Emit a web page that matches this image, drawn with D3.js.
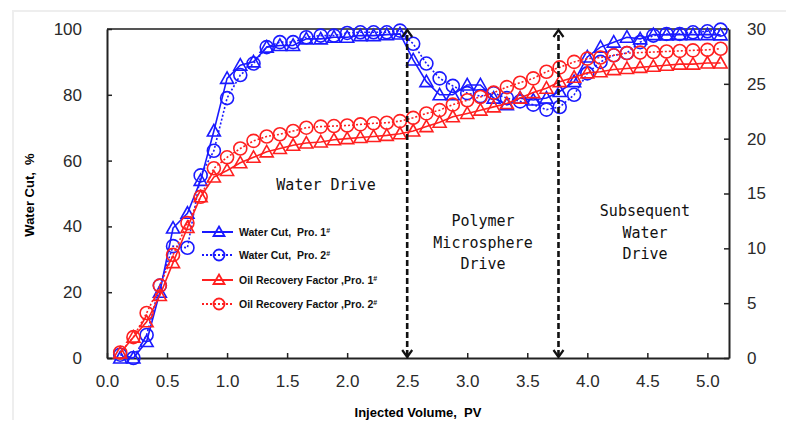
<!DOCTYPE html>
<html>
<head>
<meta charset="utf-8">
<script src="https://cdn.jsdelivr.net/npm/d3@7/dist/d3.min.js"></script>
<style>
  html, body { margin: 0; padding: 0; background: #fff; }
  svg { display: block; }
  text { white-space: pre; }
</style>
</head>
<body>
<svg id="chart" width="795" height="430"></svg>
<script>
// Injected volume (PV) at each sampling point
const injectedPV = [
  0.11, 0.22, 0.33, 0.44, 0.55, 0.67, 0.78, 0.89, 1.00, 1.11,
  1.22, 1.33, 1.44, 1.55, 1.66, 1.78, 1.89, 2.00, 2.11, 2.22,
  2.33, 2.44, 2.55, 2.66, 2.77, 2.88, 3.00, 3.11, 3.22, 3.33,
  3.44, 3.55, 3.66, 3.77, 3.89, 4.00, 4.11, 4.22, 4.33, 4.44,
  4.55, 4.66, 4.77, 4.88, 5.00, 5.11
];

// Water cut, % (left axis)
const waterCutPro1 = [
  0, 0, 5, 20, 39.5, 44, 54, 69, 85, 89,
  90, 94.5, 95, 95, 97, 97, 97.5, 97.5, 98, 98,
  98.3, 98.5, 90.6, 84, 80, 80, 83, 83, 79, 77,
  79, 78.4, 79, 81, 84, 91.5, 94.5, 96, 97.5, 97,
  98.3, 98.2, 98.3, 98.3, 98.3, 98.2
];
const waterCutPro2 = [
  1, 0, 7, 22, 34, 33.5, 55.5, 63, 79, 86,
  89.5, 94.5, 96, 96, 97.5, 98, 98, 98.8, 99, 99,
  99, 99.5, 95.5, 89.5, 85, 82.7, 80.5, 79.6, 80.5, 79,
  78, 77, 75.5, 76.3, 80, 86.5, 90, 92, 92.7, 96,
  98, 98.5, 98.5, 99, 99.3, 99.8
];

// Oil recovery factor, % (right axis)
const recoveryPro1 = [
  0.45, 1.9, 3.3, 5.7, 8.7, 11.9, 14.7, 16.5, 17.1, 17.8,
  18.3, 18.8, 19.1, 19.4, 19.6, 19.7, 19.9, 20.0, 20.1, 20.2,
  20.3, 20.45, 20.7, 21.1, 21.5, 22.0, 22.3, 22.6, 22.9, 23.2,
  23.7, 24.2, 24.6, 25.2, 25.6, 26.0, 26.1, 26.3, 26.4, 26.5,
  26.6, 26.7, 26.8, 26.8, 26.9, 26.9
];
const recoveryPro2 = [
  0.5, 1.9, 4.1, 6.6, 9.4, 12.3, 14.7, 17.3, 18.3, 19.1,
  19.8, 20.2, 20.4, 20.7, 21.0, 21.1, 21.15, 21.2, 21.3, 21.4,
  21.45, 21.6, 21.9, 22.3, 22.6, 23.1, 23.5, 23.8, 24.2, 24.7,
  25.1, 25.5, 26.1, 26.5, 27.0, 27.3, 27.4, 27.6, 27.8, 27.85,
  27.9, 27.95, 28.0, 28.05, 28.1, 28.2
];

// Stage boundaries (PV)
const stageBounds = [2.5, 3.76];

// Tick values
const xTicks = [0, 0.5, 1, 1.5, 2, 2.5, 3, 3.5, 4, 4.5, 5];
const yLeftTicks = [0, 20, 40, 60, 80, 100];
const yRightTicks = [0, 5, 10, 15, 20, 25, 30];

const seriesNames = [
  "Water Cut,  Pro. 1",
  "Water Cut,  Pro. 2",
  "Oil Recovery Factor ,Pro. 1",
  "Oil Recovery Factor ,Pro. 2"
];

const BLUE = "#1a1aff";
const RED = "#ff2020";

const series = [
  { name: seriesNames[0], values: waterCutPro1, axis: "left", color: BLUE, marker: "triangle", dotted: false },
  { name: seriesNames[1], values: waterCutPro2, axis: "left", color: BLUE, marker: "circle", dotted: true },
  { name: seriesNames[2], values: recoveryPro1, axis: "right", color: RED, marker: "triangle", dotted: false },
  { name: seriesNames[3], values: recoveryPro2, axis: "right", color: RED, marker: "circle", dotted: true }
];

const svg = d3.select("#chart");
const plotLeft = 107, plotRight = 729, plotTop = 29, plotBottom = 358;

const x = d3.scaleLinear().domain([0, 5.18]).range([plotLeft, plotRight]);
const yL = d3.scaleLinear().domain([0, 100]).range([plotBottom, plotTop]);
const yR = d3.scaleLinear().domain([0, 30]).range([plotBottom, plotTop]);

const tickFont = "'Liberation Sans', Arial, sans-serif";

// faint frame of the figure
svg.append("path")
  .attr("d", "M13,420 V11 H786")
  .attr("fill", "none").attr("stroke", "#eeeeee").attr("stroke-width", 2);

// top border of the plot box
svg.append("line")
  .attr("x1", plotLeft).attr("x2", plotRight).attr("y1", plotTop).attr("y2", plotTop)
  .attr("stroke", "#555").attr("stroke-width", 2);

function styleAxis(g) {
  g.select(".domain").attr("stroke", "#222").attr("stroke-width", 2);
  g.selectAll(".tick line").attr("stroke", "#222").attr("stroke-width", 1.5);
  g.selectAll(".tick text")
    .attr("fill", "#2a2a2a")
    .style("font-family", tickFont)
    .style("font-size", "17px");
}

svg.append("g")
  .attr("transform", `translate(0,${plotBottom})`)
  .call(d3.axisBottom(x).tickValues(xTicks).tickFormat(d3.format(".1f"))
    .tickSizeInner(-5).tickSizeOuter(0).tickPadding(17))
  .call(styleAxis);

svg.append("g")
  .attr("transform", `translate(${plotLeft},0)`)
  .call(d3.axisLeft(yL).tickValues(yLeftTicks).tickFormat(d3.format("d"))
    .tickSizeInner(-5).tickSizeOuter(0).tickPadding(25))
  .call(styleAxis);

svg.append("g")
  .attr("transform", `translate(${plotRight},0)`)
  .call(d3.axisRight(yR).tickValues(yRightTicks).tickFormat(d3.format("d"))
    .tickSizeInner(-5).tickSizeOuter(0).tickPadding(18))
  .call(styleAxis);

// axis titles
svg.append("text")
  .attr("x", 418).attr("y", 417)
  .attr("text-anchor", "middle")
  .style("font-family", tickFont).style("font-size", "13px").style("font-weight", "bold")
  .text("Injected Volume,  PV");

svg.append("text")
  .attr("transform", "translate(34,195) rotate(-90)")
  .attr("text-anchor", "middle")
  .style("font-family", tickFont).style("font-size", "13px").style("font-weight", "bold")
  .text("Water Cut,  %");

// marker shapes
const triPath = "M0,-6.5 L6.5,5 L-6.5,5 Z";
function drawMarker(g, type, color) {
  if (type === "triangle") {
    g.append("path").attr("d", triPath)
      .attr("fill", "none").attr("stroke", color).attr("stroke-width", 1.6);
  } else {
    g.append("circle").attr("r", 6.5)
      .attr("fill", "none").attr("stroke", color).attr("stroke-width", 1.6);
  }
}

// series lines and markers
series.forEach(s => {
  const yS = s.axis === "left" ? yL : yR;
  const line = d3.line().x((d, i) => x(injectedPV[i])).y(d => yS(d));
  svg.append("path")
    .datum(s.values)
    .attr("d", line)
    .attr("fill", "none")
    .attr("stroke", s.color)
    .attr("stroke-width", 1.6)
    .attr("stroke-dasharray", s.dotted ? "2,2" : null);
  s.values.forEach((v, i) => {
    const g = svg.append("g")
      .attr("transform", `translate(${x(injectedPV[i])},${yS(v)})`);
    drawMarker(g, s.marker, s.color);
  });
});

// stage boundary arrows
stageBounds.forEach(b => {
  const bx = x(b);
  svg.append("line")
    .attr("x1", bx).attr("x2", bx).attr("y1", plotBottom - 2).attr("y2", plotTop + 2)
    .attr("stroke", "#111").attr("stroke-width", 2.6)
    .attr("stroke-dasharray", "6,3");
  svg.append("path")
    .attr("d", `M${bx - 5},${plotTop + 8} L${bx},${plotTop + 1} L${bx + 5},${plotTop + 8}`)
    .attr("fill", "none").attr("stroke", "#111").attr("stroke-width", 2.2);
  svg.append("path")
    .attr("d", `M${bx - 5},${plotBottom - 8} L${bx},${plotBottom - 1} L${bx + 5},${plotBottom - 8}`)
    .attr("fill", "none").attr("stroke", "#111").attr("stroke-width", 2.2);
});

// stage labels
const monoFont = "'DejaVu Sans Mono', 'Liberation Mono', monospace";
const stageLabels = [
  { lines: ["Water Drive"], cx: 326, cy: 185 },
  { lines: ["Polymer", "Microsphere", "Drive"], cx: 483, cy: 221 },
  { lines: ["Subsequent", "Water", "Drive"], cx: 645, cy: 211 }
];
stageLabels.forEach(l => {
  l.lines.forEach((t, i) => {
    svg.append("text")
      .attr("x", l.cx).attr("y", l.cy + i * 21.5)
      .attr("dy", "0.36em")
      .attr("text-anchor", "middle")
      .style("font-family", monoFont).style("font-size", "15px")
      .attr("fill", "#111")
      .text(t);
  });
});

// legend
const legendRows = [232, 255, 280, 304];
series.forEach((s, i) => {
  const ly = legendRows[i];
  svg.append("line")
    .attr("x1", 202).attr("x2", 233).attr("y1", ly).attr("y2", ly)
    .attr("stroke", s.color).attr("stroke-width", 2)
    .attr("stroke-dasharray", s.dotted ? "2,2" : null);
  const g = svg.append("g").attr("transform", `translate(219,${ly})`);
  if (s.marker === "triangle") {
    g.append("path").attr("d", "M0,-5.5 L5.5,4 L-5.5,4 Z")
      .attr("fill", "none").attr("stroke", s.color).attr("stroke-width", 1.8);
  } else {
    g.append("circle").attr("r", 5.5)
      .attr("fill", "none").attr("stroke", s.color).attr("stroke-width", 1.8);
  }
  const t = svg.append("text")
    .attr("x", 239).attr("y", ly).attr("dy", "0.36em")
    .style("font-family", tickFont).style("font-size", "10.5px").style("font-weight", "bold")
    .attr("fill", "#111");
  t.append("tspan").text(s.name);
  t.append("tspan").attr("dy", "-0.45em").style("font-size", "7px").text("#");
});
</script>
</body>
</html>
